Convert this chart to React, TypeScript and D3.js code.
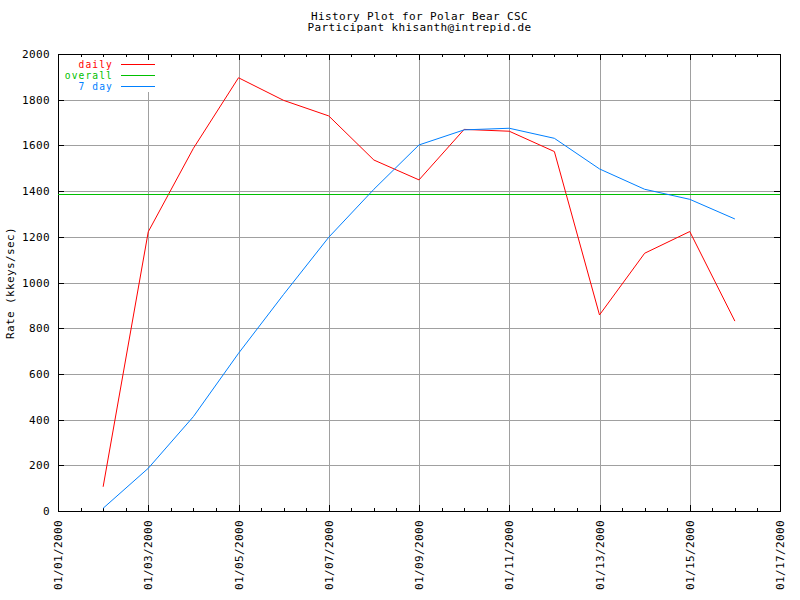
import React from "react";
import * as d3 from "d3";

const titleLines = ["History Plot for Polar Bear CSC", "Participant khisanth@intrepid.de"];
const yLabel = "Rate (kkeys/sec)";
const days = [2, 3, 4, 5, 6, 7, 8, 9, 10, 11, 12, 13, 14, 15, 16];
const daily = [106, 1222, 1587, 1896, 1797, 1729, 1536, 1449, 1670, 1662, 1573, 858, 1128, 1223, 831];
const sevenDay = [12, 187, 413, 690, 948, 1198, 1408, 1602, 1668, 1675, 1631, 1497, 1408, 1364, 1278];
const overall = 1389;
const yTicks = [0, 200, 400, 600, 800, 1000, 1200, 1400, 1600, 1800, 2000];
const xMajorDays = [1, 3, 5, 7, 9, 11, 13, 15, 17];
const legendNames = ["daily", "overall", "7 day"];

const W = 800, H = 600;
const L = 58, R = 780, T = 54, B = 511;
const FONT = "'DejaVu Sans Mono', monospace";
const COLORS = { daily: "#ff0000", overall: "#00c000", seven: "#0080ff" };

export default function App() {
  const x = d3.scaleTime().domain([new Date(2000, 0, 1), new Date(2000, 0, 17)]).range([L, R]);
  const y = d3.scaleLinear().domain([0, 2000]).range([B, T]);
  const fmt = d3.timeFormat("%m/%d/%Y");
  const dateOf = (d: number) => new Date(2000, 0, d);
  const minorTimes: Date[] = [];
  for (let h = 0; h <= 16 * 24; h += 12) minorTimes.push(d3.timeHour.offset(new Date(2000, 0, 1), h));

  const line = d3
    .line<[number, number]>()
    .x((d) => x(dateOf(d[0])))
    .y((d) => y(d[1]));
  const dailyPath = line(days.map((d, i) => [d, daily[i]] as [number, number])) || "";
  const sevenPath = line(days.map((d, i) => [d, sevenDay[i]] as [number, number])) || "";

  const legendColors = [COLORS.daily, COLORS.overall, COLORS.seven];
  const textStyle: React.CSSProperties = { fontFamily: FONT, fontSize: 11, letterSpacing: 0.38 };
  const legendStyle: React.CSSProperties = { fontFamily: FONT, fontSize: 9.6, letterSpacing: 1.1 };

  return (
    <svg width={W} height={H} style={{ position: "absolute", left: 0, top: 0, background: "#fff" }}>
      <rect x={0} y={0} width={W} height={H} fill="#fff" />
      {/* title */}
      {titleLines.map((t, i) => (
        <text key={i} x={419.5} y={19.5 + i * 11.8} textAnchor="middle" style={textStyle} fill="#000">
          {t}
        </text>
      ))}
      {/* gridlines */}
      <g stroke="#a0a0a0" strokeWidth={1} shapeRendering="crispEdges">
        {yTicks.slice(1, -1).map((v) => (
          <line key={"gy" + v} x1={L} x2={R} y1={Math.round(y(v)) + 0.5} y2={Math.round(y(v)) + 0.5} />
        ))}
        {xMajorDays.slice(1, -1).map((d) => (
          <line key={"gx" + d} x1={Math.round(x(dateOf(d))) + 0.5} x2={Math.round(x(dateOf(d))) + 0.5} y1={T} y2={B} />
        ))}
      </g>
      {/* legend backdrop */}
      <rect x={L + 1} y={T + 1} width={102} height={37} fill="#fff" />
      {/* border and ticks */}
      <g stroke="#000" strokeWidth={1} shapeRendering="crispEdges" fill="none">
        <rect x={L + 0.5} y={T + 0.5} width={R - L} height={B - T} />
        {yTicks.map((v) => {
          const yy = Math.round(y(v)) + 0.5;
          return (
            <g key={"ty" + v}>
              <line x1={L} x2={L + 6} y1={yy} y2={yy} />
              <line x1={R - 6} x2={R} y1={yy} y2={yy} />
            </g>
          );
        })}
        {minorTimes.map((t, i) => {
          const xx = Math.round(x(t)) + 0.5;
          const major = t.getHours() === 0 && (t.getDate() % 2 === 1);
          const len = major ? 6 : 3;
          return (
            <g key={"tx" + i}>
              <line x1={xx} x2={xx} y1={B} y2={B - len} />
              <line x1={xx} x2={xx} y1={T} y2={T + len} />
            </g>
          );
        })}
      </g>
      {/* y tick labels */}
      {yTicks.map((v) => (
        <text key={"ly" + v} x={50} y={y(v) + 4} textAnchor="end" style={textStyle} fill="#000">
          {v}
        </text>
      ))}
      {/* x tick labels */}
      {xMajorDays.map((d) => {
        const xx = x(dateOf(d));
        return (
          <text
            key={"lx" + d}
            transform={`translate(${xx + 4},520) rotate(-90)`}
            textAnchor="end"
            style={textStyle}
            fill="#000"
          >
            {fmt(dateOf(d))}
          </text>
        );
      })}
      {/* y axis label */}
      <text transform={`translate(14,283) rotate(-90)`} textAnchor="middle" style={textStyle} fill="#000">
        {yLabel}
      </text>
      {/* data */}
      <path d={dailyPath} fill="none" stroke={COLORS.daily} strokeWidth={1} />
      <line x1={L} x2={R} y1={Math.round(y(overall)) + 0.5} y2={Math.round(y(overall)) + 0.5} stroke={COLORS.overall} strokeWidth={1} shapeRendering="crispEdges" />
      <path d={sevenPath} fill="none" stroke={COLORS.seven} strokeWidth={1} />
      {/* legend */}
      {legendNames.map((n, i) => {
        const ly = 64 + i * 11;
        return (
          <g key={"lg" + n}>
            <text x={113} y={ly + 3.5} textAnchor="end" style={legendStyle} fill={legendColors[i]}>
              {n}
            </text>
            <rect x={121} y={ly} width={34} height={1} fill={legendColors[i]} />
          </g>
        );
      })}
    </svg>
  );
}
